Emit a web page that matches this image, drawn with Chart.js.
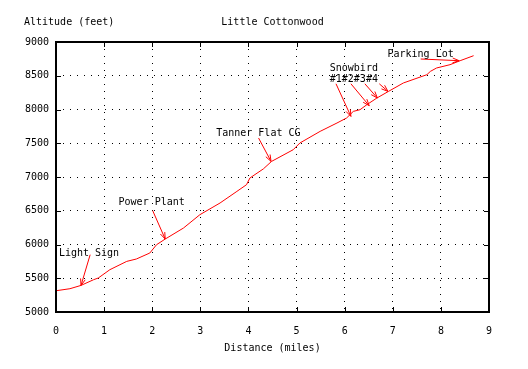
<!DOCTYPE html>
<html>
<head>
<meta charset="utf-8">
<script src="https://cdn.jsdelivr.net/npm/chart.js@4/dist/chart.umd.min.js"></script>
<style>
  html, body { margin: 0; padding: 0; background: #fff; }
  #wrap { width: 528px; height: 369px; }
</style>
</head>
<body>
<div id="wrap"><canvas id="diagramm" width="528" height="369"></canvas></div>
<script>
// elevation profile
const miles = [0.00, 0.29, 0.52, 0.78, 0.88, 1.12, 1.47, 1.67, 1.95, 2.09, 2.27, 2.65, 2.99,
  3.41, 3.76, 3.96, 4.03, 4.31, 4.48, 4.93, 5.07, 5.49, 5.84, 6.04, 6.18, 6.32, 6.46,
  6.67, 6.91, 7.22, 7.71, 7.78, 7.91, 8.19, 8.40, 8.68];
const feet = [5315, 5345, 5394, 5478, 5504, 5627, 5750, 5785, 5874, 5997, 6081, 6244, 6441,
  6615, 6787, 6886, 6985, 7120, 7231, 7404, 7504, 7676, 7800, 7874, 7972, 7997, 8071,
  8170, 8268, 8393, 8516, 8564, 8615, 8664, 8723, 8797];

const xTicks = [0, 1, 2, 3, 4, 5, 6, 7, 8, 9];
const yTicks = [5000, 5500, 6000, 6500, 7000, 7500, 8000, 8500, 9000];

// landmarks: label text, where it sits, and arrow from -> to (all in miles / feet)
const labels = [
  { text: "Light Sign", at: [0.06, 5863] },
  { text: "Power Plant", at: [1.30, 6624] },
  { text: "Tanner Flat CG", at: [3.33, 7641] },
  { text: "Snowbird", at: [5.69, 8604] },
  { text: "#1#2#3#4", at: [5.69, 8441] },
  { text: "Parking Lot", at: [6.89, 8822] },
];
const arrows = [
  { from: [0.71, 5849], to: [0.52, 5394] },
  { from: [2.01, 6501], to: [2.27, 6081] },
  { from: [4.21, 7578], to: [4.47, 7231] },
  { from: [5.82, 8381], to: [6.13, 7898] },
  { from: [6.13, 8381], to: [6.51, 8056] },
  { from: [6.42, 8381], to: [6.68, 8170] },
  { from: [6.72, 8381], to: [6.90, 8268] },
  { from: [7.58, 8748], to: [8.38, 8723] },
];

const FONT = "DejaVu Sans Mono";

const framePlugin = {
  id: "frame",
  afterDatasetsDraw(chart) {
    const ctx = chart.ctx;
    const xs = chart.scales.x, ys = chart.scales.y;
    const px = (p) => [xs.getPixelForValue(p[0]), ys.getPixelForValue(p[1])];
    ctx.save();
    // arrows
    ctx.strokeStyle = "#ff0000";
    ctx.lineWidth = 1;
    arrows.forEach((a) => {
      const [x1, y1] = px(a.from);
      const [x2, y2] = px(a.to);
      const ang = Math.atan2(y2 - y1, x2 - x1);
      const len = 7, spread = 0.35;
      ctx.beginPath();
      ctx.moveTo(x1, y1);
      ctx.lineTo(x2, y2);
      ctx.moveTo(x2 - len * Math.cos(ang - spread), y2 - len * Math.sin(ang - spread));
      ctx.lineTo(x2, y2);
      ctx.lineTo(x2 - len * Math.cos(ang + spread), y2 - len * Math.sin(ang + spread));
      ctx.stroke();
    });
    // label texts
    ctx.fillStyle = "#000";
    ctx.font = "10px '" + FONT + "'";
    ctx.textAlign = "left";
    ctx.textBaseline = "middle";
    labels.forEach((l) => {
      const [x, y] = px(l.at);
      ctx.fillText(l.text, x, y);
    });
    ctx.restore();
  },
  afterDraw(chart) {
    const ctx = chart.ctx;
    const a = chart.chartArea;
    const xs = chart.scales.x, ys = chart.scales.y;
    ctx.save();
    ctx.strokeStyle = "#000";
    // inward ticks
    ctx.lineWidth = 1;
    ctx.beginPath();
    xTicks.forEach((v) => {
      const x = Math.round(xs.getPixelForValue(v)) + 0.5;
      ctx.moveTo(x, a.bottom); ctx.lineTo(x, a.bottom - 5);
      ctx.moveTo(x, a.top); ctx.lineTo(x, a.top + 5);
    });
    yTicks.forEach((v) => {
      const y = Math.round(ys.getPixelForValue(v)) + 0.5;
      ctx.moveTo(a.left, y); ctx.lineTo(a.left + 5, y);
      ctx.moveTo(a.right, y); ctx.lineTo(a.right - 5, y);
    });
    ctx.stroke();
    // heavy frame
    ctx.lineWidth = 2;
    ctx.strokeRect(a.left, a.top, a.right - a.left, a.bottom - a.top);
    // captions above the frame
    ctx.fillStyle = "#000";
    ctx.font = "10px '" + FONT + "'";
    ctx.textBaseline = "middle";
    ctx.textAlign = "left";
    ctx.fillText("Altitude (feet)", 24, 22);
    ctx.textAlign = "center";
    ctx.fillText("Little Cottonwood", (a.left + a.right) / 2, 22);
    ctx.restore();
  },
};

const ctx = document.getElementById("diagramm").getContext("2d");
new Chart(ctx, {
  type: "line",
  data: {
    datasets: [
      {
        data: miles.map((m, i) => ({ x: m, y: feet[i] })),
        borderColor: "#ff0000",
        borderWidth: 1,
        pointRadius: 0,
        tension: 0,
        fill: false,
      },
    ],
  },
  options: {
    responsive: false,
    animation: false,
    layout: { padding: { left: 0, right: 39, top: 42, bottom: 0 } },
    plugins: {
      legend: { display: false },
      tooltip: { enabled: false },
      title: { display: false },
    },
    scales: {
      x: {
        type: "linear",
        min: 0,
        max: 9,
        afterBuildTicks: (s) => { s.ticks = xTicks.map((v) => ({ value: v })); },
        afterFit: (s) => { s.height = 57; },
        ticks: { color: "#000", padding: 13, font: { family: FONT, size: 10 }, callback: (v) => String(v) },
        grid: { color: "#000", drawTicks: false },
        border: { display: false, dash: [1, 6] },
        title: {
          display: true,
          text: "Distance (miles)",
          color: "#000",
          font: { family: FONT, size: 10 },
          padding: { top: 0, bottom: 15 },
        },
      },
      y: {
        type: "linear",
        min: 5000,
        max: 9000,
        afterBuildTicks: (s) => { s.ticks = yTicks.map((v) => ({ value: v })); },
        afterFit: (s) => { s.width = 56; },
        ticks: { color: "#000", padding: 7, font: { family: FONT, size: 10 }, callback: (v) => String(v) },
        grid: { color: "#000", drawTicks: false },
        border: { display: false, dash: [1, 6] },
      },
    },
  },
  plugins: [framePlugin],
});
</script>
</body>
</html>
